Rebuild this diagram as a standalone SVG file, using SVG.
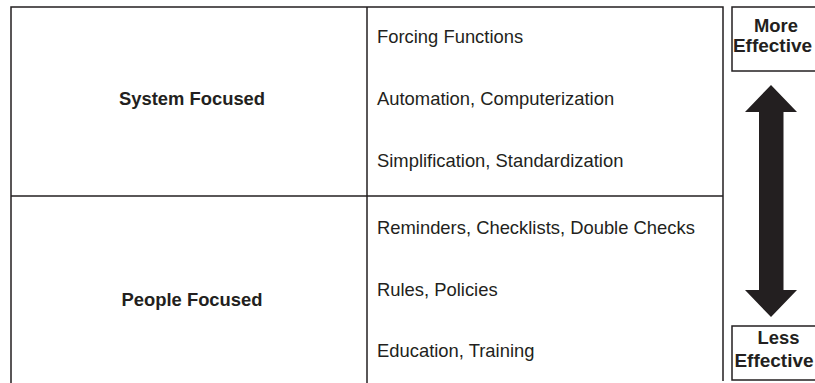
<svg xmlns="http://www.w3.org/2000/svg" width="815" height="383" viewBox="0 0 815 383">
  <style>
    .line { fill: none; stroke: #231f20; stroke-width: 1.5; }
    .box { fill: #ffffff; stroke: #231f20; stroke-width: 1.5; }
    .head { font-family: "Liberation Sans", Arial, sans-serif; font-weight: bold; font-size: 18.4px; fill: #231f20; text-anchor: middle; }
    .tag { font-size: 19px; }
    .item { font-family: "Liberation Sans", Arial, sans-serif; font-size: 18.4px; fill: #231f20; }
  </style>
  <rect width="815" height="383" fill="#ffffff"/>

  <!-- table frame -->
  <g id="table">
    <path class="line" d="M11,383 V7 H723 V381"/>
    <path class="line" d="M367,7 V383"/>
    <path class="line" d="M11,196 H723"/>
  </g>

  <g id="system-focused">
    <text class="head" x="192" y="105">System Focused</text>
    <text class="item" x="377" y="42.5">Forcing Functions</text>
    <text class="item" x="377" y="104.5">Automation, Computerization</text>
    <text class="item" x="377" y="167">Simplification, Standardization</text>
  </g>

  <g id="people-focused">
    <text class="head" x="192" y="306">People Focused</text>
    <text class="item" x="377" y="233.5">Reminders, Checklists, Double Checks</text>
    <text class="item" x="377" y="295.5">Rules, Policies</text>
    <text class="item" x="377" y="357">Education, Training</text>
  </g>

  <g id="more-effective">
    <rect class="box" x="732" y="7" width="100" height="64"/>
    <text class="head" x="776" y="31.5">More</text>
    <text class="head tag" x="772.5" y="52">Effective</text>
  </g>

  <g id="less-effective">
    <rect class="box" x="732" y="326" width="100" height="54"/>
    <text class="head" x="778.5" y="343.5">Less</text>
    <text class="head tag" x="774" y="366.5">Effective</text>
  </g>

  <!-- double-headed scale arrow -->
  <g id="connectors">
    <path fill="#231f20" d="M771,85 L797,112 H783.5 V290 H797 L771,317 L745,290 H759 V112 H745 Z"/>
  </g>
</svg>
